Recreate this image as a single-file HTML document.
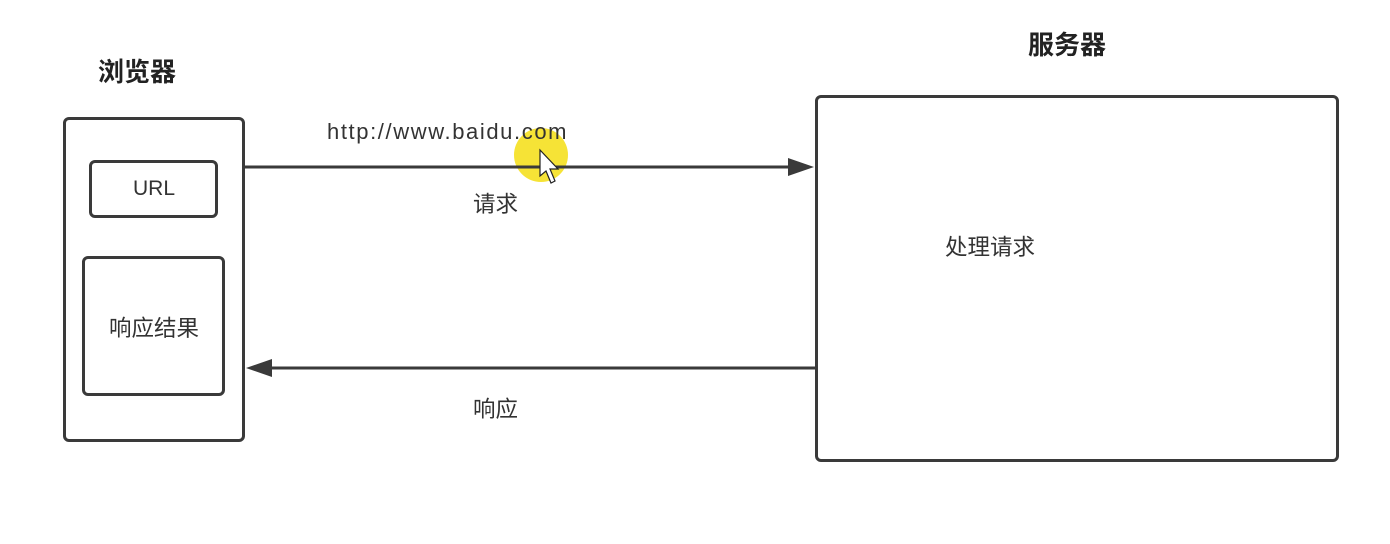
<!DOCTYPE html>
<html><head><meta charset="utf-8"><style>
html,body{margin:0;padding:0;background:#fff;}
body{width:1390px;height:544px;position:relative;overflow:hidden;font-family:"Liberation Sans","Noto Sans CJK SC",sans-serif;color:#333;}
.box{position:absolute;border:3px solid #3a3a3a;border-radius:6px;box-sizing:border-box;background:#fff;}
.t{position:absolute;white-space:nowrap;}
</style></head><body>
<div class="t" style="left:98px;top:52px;font-size:26px;font-weight:bold;color:#222">浏览器</div>
<div class="t" style="left:1028px;top:25px;font-size:26px;font-weight:bold;color:#222">服务器</div>
<div class="box" style="left:63px;top:117px;width:182px;height:325px"></div>
<div class="box" style="left:89px;top:160px;width:129px;height:58px"></div>
<div class="t" style="left:133px;top:177px;font-size:21px">URL</div>
<div class="box" style="left:82px;top:256px;width:143px;height:140px"></div>
<div class="t" style="left:109px;top:311px;font-size:22.5px">响应结果</div>
<div class="box" style="left:815px;top:95px;width:524px;height:367px"></div>
<div class="t" style="left:945px;top:230px;font-size:22.5px">处理请求</div>
<svg style="position:absolute;left:0;top:0" width="1390" height="544">
<circle cx="541" cy="155" r="27" fill="#f5e020" opacity="0.9"/>
<line x1="244" y1="167" x2="792" y2="167" stroke="#3a3a3a" stroke-width="3"/>
<polygon points="814,167 788,158 788,176" fill="#3a3a3a"/>
<line x1="816" y1="368" x2="268" y2="368" stroke="#3a3a3a" stroke-width="3"/>
<polygon points="246,368 272,359 272,377" fill="#3a3a3a"/>
<polygon points="540,150 540,176 546,171 551,183 555,181 550,169 558,169" fill="#fff" stroke="#222" stroke-width="1.2"/>
</svg>
<div class="t" style="left:327px;top:119px;font-size:22px;letter-spacing:1.6px">http://www.baidu.com</div>
<div class="t" style="left:473px;top:187px;font-size:22.5px">请求</div>
<div class="t" style="left:473px;top:392px;font-size:22.5px">响应</div>
</body></html>
